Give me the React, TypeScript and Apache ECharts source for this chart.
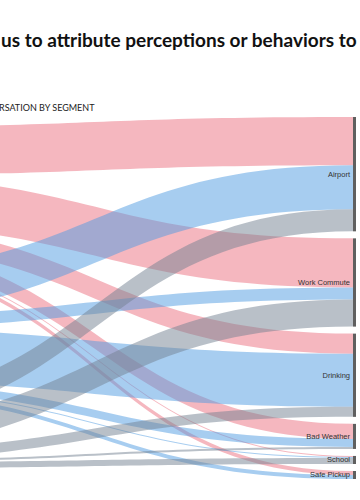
import { useEffect, useRef } from "react";
import * as echarts from "echarts";

const titleText = "us to attribute perceptions or behaviors to";
const subtitleText = "RSATION BY SEGMENT";

const segments = ["Segment 1", "Segment 2", "Segment 3"];
const segmentColors = ["#eb6f7f", "#4f9be1", "#738191"];
const topics = ["Airport", "Work Commute", "Drinking", "Bad Weather", "School", "Safe Pickup"];
const segment1Values = [48, 49, 20, 15, 1, 4];
const segment2Values = [44, 12, 53, 8, 1, 4];
const segment3Values = [22, 27, 10, 2, 6, 0];

export default function App() {
  const ref = useRef<HTMLDivElement>(null);
  useEffect(() => {
    if (!ref.current) return;
    const chart = echarts.init(ref.current, undefined, { renderer: "svg" });
    const sourceLocalY = [0.0276, 0.428, 0.7845];
    const valueSets = [segment1Values, segment2Values, segment3Values];
    const nodes: any[] = [];
    segments.forEach((s, i) => {
      nodes.push({
        name: s,
        localY: sourceLocalY[i],
        itemStyle: { color: segmentColors[i] },
        label: { show: false },
      });
    });
    topics.forEach((t) => {
      nodes.push({ name: t, itemStyle: { color: "#5f5f5f" } });
    });
    const links: any[] = [];
    segments.forEach((s, i) => {
      topics.forEach((t, j) => {
        const v = valueSets[i][j];
        if (v > 0) links.push({ source: s, target: t, value: v });
      });
    });
    chart.setOption({
      animation: false,
      graphic: [
        {
          type: "text",
          left: 1,
          top: 30,
          style: {
            text: titleText,
            font: "bold 19px Lato",
            fill: "#111",
          },
        },
        {
          type: "text",
          left: -1,
          top: 103,
          style: {
            text: subtitleText,
            font: "9px Lato",
            fill: "#222",
          },
        },
      ],
      series: [
        {
          type: "sankey",
          left: -165,
          right: 4,
          top: 117,
          bottom: 21,
          nodeWidth: 3,
          nodeGap: 7,
          layoutIterations: 0,
          draggable: false,
          emphasis: { disabled: true },
          data: nodes,
          links,
          label: {
            show: true,
            position: "left",
            distance: 3,
            fontSize: 7.5,
            fontFamily: "Liberation Sans",
            color: "#333",
          },
          itemStyle: { borderWidth: 0 },
          lineStyle: { color: "source", opacity: 0.5, curveness: 0.5 },
        },
      ],
    });
    return () => chart.dispose();
  }, []);
  return (
    <div
      ref={ref}
      style={{ position: "absolute", left: 0, top: 0, width: 360, height: 500 }}
    />
  );
}
